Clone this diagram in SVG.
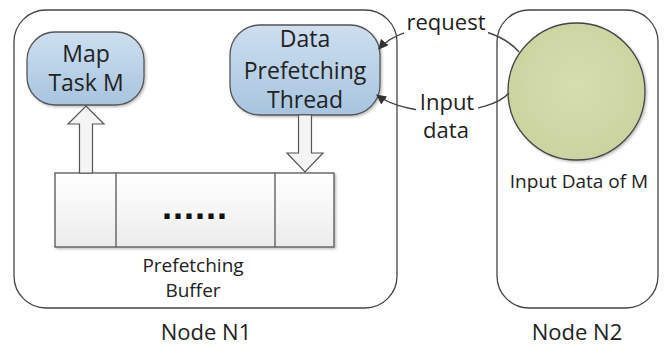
<svg xmlns="http://www.w3.org/2000/svg" width="664" height="349" viewBox="0 0 664 349">
<defs>
<linearGradient id="blue" x1="0" y1="0" x2="0" y2="1">
<stop offset="0" stop-color="#cddff0"/>
<stop offset="1" stop-color="#a8c4df"/>
</linearGradient>
<linearGradient id="buf" x1="0" y1="0" x2="0" y2="1">
<stop offset="0" stop-color="#ffffff"/>
<stop offset="1" stop-color="#ececec"/>
</linearGradient>
<radialGradient id="green" cx="0.5" cy="0.45" r="0.6">
<stop offset="0" stop-color="#d6ddb0"/>
<stop offset="1" stop-color="#c9d39e"/>
</radialGradient>
<marker id="ah" viewBox="0 0 10 10" refX="9" refY="5" markerWidth="10" markerHeight="10" markerUnits="userSpaceOnUse" orient="auto">
<path d="M0,0 L10,5 L0,10 z" fill="#333"/>
</marker>
<filter id="sh" x="-10%" y="-10%" width="130%" height="130%">
<feDropShadow dx="1.5" dy="1.5" stdDeviation="1" flood-color="#000" flood-opacity="0.25"/>
</filter>
</defs>
<style>
text{font-family:"Open Sans","Liberation Sans",sans-serif;fill:#222;text-anchor:middle}
.container{fill:#fff;stroke:#444;stroke-width:1.3}
.task{fill:url(#blue);stroke:#555;stroke-width:1.3}
.hollow{fill:#f4f4f4;stroke:#555;stroke-width:1.2}
.conn{fill:none;stroke:#444;stroke-width:1.5}
.big{font-size:23px}
.foot{font-size:22px}
.mid{font-size:22px}
.small{font-size:19px}
</style>

<g id="node-n1">
<rect class="container" x="14" y="10" width="383" height="298" rx="32"/>
<text class="foot" x="206" y="340">Node N1</text>
</g>

<g id="node-n2">
<rect class="container" x="497" y="10" width="161" height="298" rx="32"/>
<text class="foot" x="577" y="340">Node N2</text>
</g>

<g id="map-task">
<rect class="task" x="27" y="32" width="117" height="73" rx="28" filter="url(#sh)"/>
<text class="big" x="86" y="62">Map</text>
<text class="big" x="86" y="91">Task M</text>
</g>

<g id="data-prefetching-thread">
<rect class="task" x="230" y="25" width="150" height="90" rx="30" filter="url(#sh)"/>
<text class="big" x="305" y="47">Data</text>
<text class="big" x="305" y="79">Prefetching</text>
<text class="big" x="305" y="108">Thread</text>
</g>

<g id="prefetching-buffer">
<rect x="55" y="173" width="279" height="74" fill="url(#buf)" stroke="#555" stroke-width="1.3" filter="url(#sh)"/>
<line x1="116" y1="173" x2="116" y2="247" stroke="#555" stroke-width="1.3"/>
<line x1="275" y1="173" x2="275" y2="247" stroke="#555" stroke-width="1.3"/>
<text x="195" y="219" style="font-family:'Liberation Sans',sans-serif;font-size:36px;font-weight:bold;letter-spacing:1px;fill:#111">......</text>
<text class="small" x="193" y="272">Prefetching</text>
<text class="small" x="193" y="297">Buffer</text>
</g>

<g id="input-data-of-m">
<circle cx="576.5" cy="91.5" r="68.5" fill="url(#green)" stroke="#444" stroke-width="1.3" filter="url(#sh)"/>
<text class="small" x="579" y="188">Input Data of M</text>
</g>

<g id="connectors">
<path class="hollow" d="M79.5,173 L79.5,124 L68,124 L86,106 L104,124 L92.5,124 L92.5,173 Z"/>
<path class="hollow" d="M298.5,115 L298.5,153 L287,153 L305,172 L323,153 L311.5,153 L311.5,115 Z"/>
<path class="conn" d="M519,52 C490,18 405,18 379,49" marker-end="url(#ah)"/>
<path class="conn" d="M509,93 C490,115 410,120 377,95" marker-end="url(#ah)"/>
<rect x="404" y="10" width="84" height="26" fill="#fff"/>
<text class="mid" x="446" y="30">request</text>
<rect x="416" y="92" width="62" height="50" fill="#fff"/>
<text class="mid" x="447" y="110">Input</text>
<text class="mid" x="446" y="138">data</text>
</g>
</svg>
